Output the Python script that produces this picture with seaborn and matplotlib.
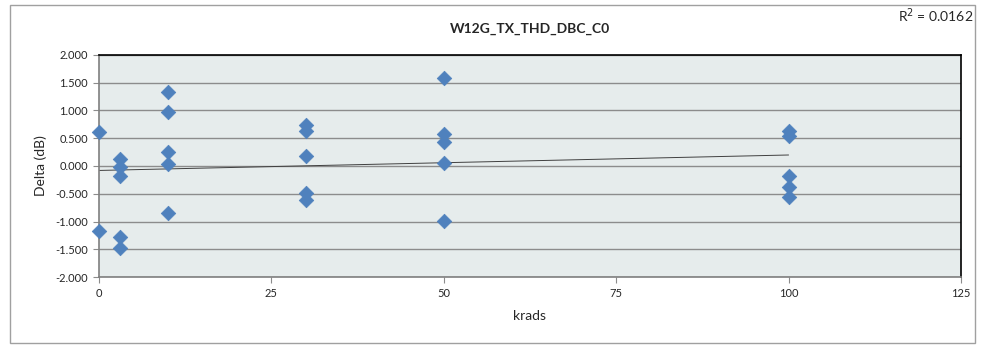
import numpy as np
import pandas as pd
import matplotlib
matplotlib.use("Agg")
import matplotlib.pyplot as plt
import seaborn as sns
from matplotlib.patches import Rectangle

# data
krads = [0, 0,
         3, 3, 3, 3, 3,
         10, 10, 10, 10, 10,
         30, 30, 30, 30, 30,
         50, 50, 50, 50, 50,
         100, 100, 100, 100, 100]
delta = [0.618, -1.171,
         0.126, -0.024, -0.174, -1.273, -1.470,
         1.333, 0.967, 0.246, 0.030, -0.853,
         0.739, 0.631, 0.180, -0.480, -0.613,
         1.586, 0.577, 0.427, 0.060, -0.997,
         0.631, 0.541, -0.174, -0.384, -0.559]
title = "W12G_TX_THD_DBC_C0"
x_ticks = [0, 25, 50, 75, 100, 125]
y_ticks = [-2.0, -1.5, -1.0, -0.5, 0.0, 0.5, 1.0, 1.5, 2.0]
r2_label = "R$^2$ = 0.0162"


def main():
    df = pd.DataFrame({"krads": krads, "delta": delta})

    sns.set_style("white")
    plt.rcParams["font.family"] = ["Lato", "DejaVu Sans"]

    fig = plt.figure(figsize=(9.84, 3.48), dpi=100)
    ax = fig.add_axes([0.1006, 0.204, 0.8760, 0.638])

    # outer chart border
    fig.patches.append(Rectangle((10 / 984, 5 / 348), 965 / 984, 338 / 348,
                                 transform=fig.transFigure, fill=False,
                                 edgecolor="#a0a0a0", linewidth=1))

    ax.set_facecolor("#e6ecec")
    ax.set_xlim(0, 125)
    ax.set_ylim(-2, 2)
    ax.set_yticks(y_ticks)
    ax.set_xticks(x_ticks)
    ax.set_yticklabels([f"{v:.3f}" for v in y_ticks], fontsize=8)
    ax.set_xticklabels([str(v) for v in x_ticks], fontsize=8)
    ax.yaxis.grid(True, color="#8c8c8c", linewidth=1)
    ax.set_axisbelow(True)
    ax.tick_params(axis="both", direction="out", length=4, width=0.8,
                   color="#8c8c8c", pad=4, left=True, bottom=True)
    for side in ["top", "right"]:
        ax.spines[side].set_color("black")
        ax.spines[side].set_linewidth(1.2)
    for side in ["left", "bottom"]:
        ax.spines[side].set_color("#7f7f7f")
        ax.spines[side].set_linewidth(1.2)

    # linear trend line
    slope, intercept = np.polyfit(df.krads, df.delta, 1)
    xs = np.array([min(krads), max(krads)])
    ax.plot(xs, slope * xs + intercept, color="#404040", linewidth=0.7, zorder=2)

    sns.scatterplot(data=df, x="krads", y="delta", marker="D", s=55,
                    color="#4f81bd", edgecolor="#4f81bd", linewidth=0.5,
                    ax=ax, zorder=3, clip_on=False)

    ax.set_xlabel("krads", fontsize=10, labelpad=8)
    ax.set_ylabel("Delta (dB)", fontsize=10, labelpad=6)
    ax.set_title(title, fontsize=10, fontweight="bold", pad=16)
    fig.text(0.951, 0.955, r2_label, fontsize=10, ha="center", va="center")

    plt.savefig("out.png", dpi=100)
    plt.close()


if __name__ == "__main__":
    main()
